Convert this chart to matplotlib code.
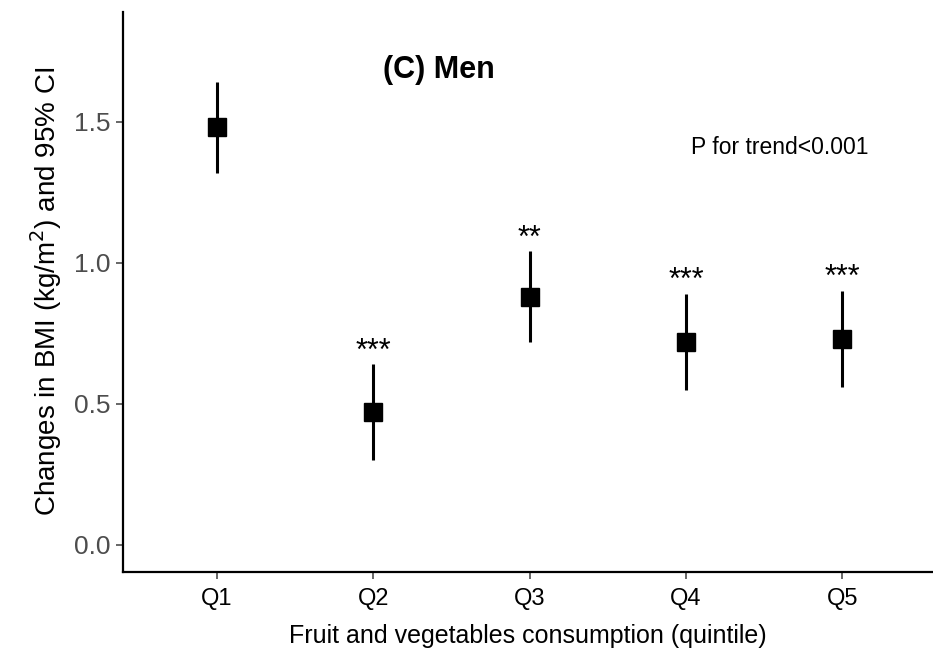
import matplotlib
matplotlib.use("Agg")
import matplotlib.pyplot as plt
import numpy as np

plt.rcParams['font.family'] = ['Liberation Sans', 'DejaVu Sans']

quintiles = ["Q1", "Q2", "Q3", "Q4", "Q5"]
estimate = [1.48, 0.47, 0.88, 0.72, 0.73]
ci_low = [1.32, 0.30, 0.72, 0.55, 0.56]
ci_high = [1.64, 0.64, 1.04, 0.89, 0.90]
stars = ["", "***", "**", "***", "***"]

x = np.arange(1, len(quintiles) + 1)
est = np.array(estimate)
lo = np.array(ci_low)
hi = np.array(ci_high)

fig = plt.figure(figsize=(9.33, 6.55), dpi=100)
ax = fig.add_axes([0.132, 0.127, 0.868, 0.855])

ax.vlines(x, lo, hi, color="black", lw=2.2)
ax.plot(x, est, "s", color="black", ms=12.5)

for xi, h, s in zip(x, hi, stars):
    if s:
        ax.text(xi, h + 0.045, s, ha="center", va="center", fontsize=22)

ax.text(2.42, 1.684, "(C) Men", ha="center", va="center", fontsize=22, fontweight="bold")
ax.text(4.60, 1.41, "P for trend<0.001", ha="center", va="center", fontsize=16.5)

ax.set_xlim(0.4, 5.58)
ax.set_ylim(-0.096, 1.89)
ax.set_xticks(x)
ax.set_xticklabels(quintiles)
ax.set_yticks([0.0, 0.5, 1.0, 1.5])
ax.set_yticklabels(["0.0", "0.5", "1.0", "1.5"])

for sp in ["top", "right"]:
    ax.spines[sp].set_visible(False)
for sp in ["left", "bottom"]:
    ax.spines[sp].set_linewidth(1.6)

ax.tick_params(axis="y", labelsize=19, labelcolor="#4D4D4D", color="#4D4D4D", length=5, width=1.2, pad=4)
ax.tick_params(axis="x", labelsize=17, labelcolor="black", color="#4D4D4D", length=5, width=1.2, pad=7)

ax.set_xlabel("Fruit and vegetables consumption (quintile)", fontsize=18, labelpad=10)
ax.set_ylabel("Changes in BMI (kg/m$^2$) and 95% CI", fontsize=20, labelpad=7)

fig.savefig("out.png", dpi=100)
